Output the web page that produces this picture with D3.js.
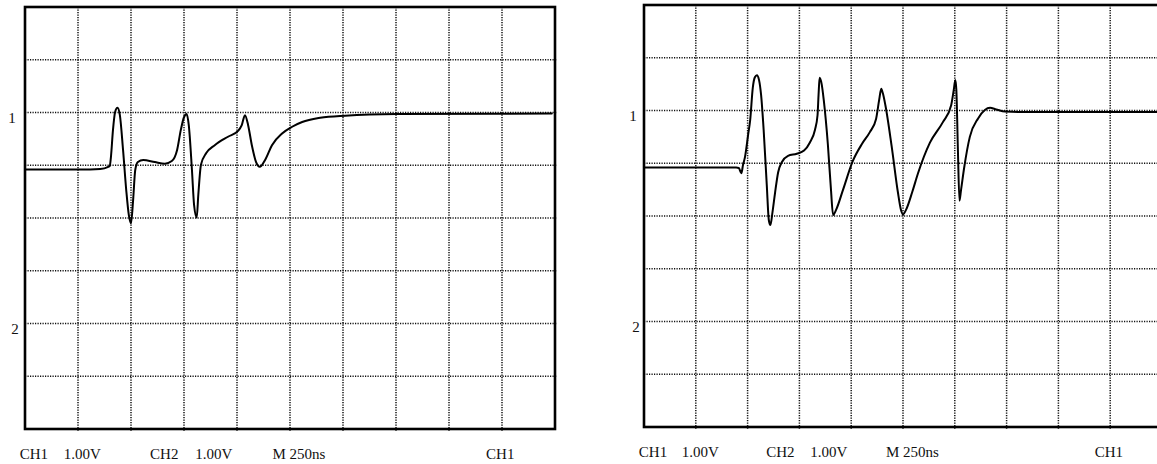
<!DOCTYPE html>
<html>
<head>
<meta charset="utf-8">
<script src="https://cdn.jsdelivr.net/npm/d3@7/dist/d3.min.js"></script>
<style>
  html, body { margin: 0; padding: 0; background: #fff; }
  svg { display: block; }
  text { font-family: "Liberation Serif", "Times New Roman", serif; fill: #111; }
</style>
</head>
<body>
<svg id="chart" width="1157" height="464"></svg>
<script>
// ---- Data (time in divisions, voltage in divisions from screen centre) ----
const leftTime = [0, 1.04, 1.42, 1.57, 1.60, 1.62, 1.66, 1.70, 1.745, 1.79, 1.85, 1.91, 1.96, 2.00, 2.04, 2.08, 2.13, 2.23, 2.45, 2.64, 2.77, 2.87, 2.94, 3.00, 3.05, 3.09, 3.15, 3.19, 3.24, 3.27, 3.32, 3.42, 3.58, 3.83, 4.02, 4.09, 4.15, 4.21, 4.28, 4.36, 4.43, 4.53, 4.66, 4.85, 5.04, 5.23, 5.57, 6.04, 7.02, 9.94];
const leftVolt = [0.92, 0.92, 0.93, 0.97, 0.99, 1.14, 1.67, 2.01, 2.09, 1.95, 1.29, 0.53, 0.05, -0.10, 0.34, 0.91, 1.06, 1.10, 1.06, 1.03, 1.08, 1.29, 1.67, 1.91, 1.97, 1.76, 0.91, 0.25, 0.01, 0.44, 1.01, 1.23, 1.38, 1.54, 1.65, 1.76, 1.95, 1.76, 1.38, 1.06, 0.97, 1.10, 1.38, 1.60, 1.73, 1.82, 1.90, 1.94, 1.97, 1.98];

const rightTime = [0, 1.08, 1.78, 1.83, 1.88, 1.91, 1.95, 2.01, 2.05, 2.10, 2.14, 2.18, 2.22, 2.26, 2.31, 2.37, 2.41, 2.44, 2.48, 2.53, 2.59, 2.66, 2.78, 2.95, 3.09, 3.20, 3.30, 3.35, 3.37, 3.39, 3.43, 3.47, 3.55, 3.61, 3.65, 3.71, 3.84, 4.03, 4.21, 4.36, 4.48, 4.54, 4.58, 4.61, 4.66, 4.78, 4.90, 4.96, 5.00, 5.06, 5.18, 5.29, 5.52, 5.77, 5.93, 5.98, 6.01, 6.03, 6.06, 6.09, 6.12, 6.18, 6.29, 6.45, 6.58, 6.68, 6.80, 6.97, 7.26, 9.95];
const rightVolt = [0.92, 0.92, 0.92, 0.91, 0.81, 0.96, 1.12, 1.54, 1.82, 2.43, 2.63, 2.67, 2.58, 2.30, 1.63, 0.59, -0.08, -0.17, 0.07, 0.44, 0.83, 1.02, 1.14, 1.18, 1.24, 1.39, 1.63, 1.91, 2.30, 2.62, 2.50, 2.20, 1.35, 0.49, 0.02, 0.12, 0.49, 1.04, 1.37, 1.59, 1.84, 2.20, 2.41, 2.33, 2.10, 1.33, 0.46, 0.12, 0.03, 0.12, 0.46, 0.81, 1.39, 1.78, 2.10, 2.39, 2.58, 2.39, 1.25, 0.29, 0.49, 0.91, 1.50, 1.85, 2.01, 2.05, 2.02, 1.98, 1.97, 1.97];

const channelMarkers = ["1", "2"];
const channelLevels = [2, -2];
const footerLabels = ["CH1", "1.00V", "CH2", "1.00V", "M 250ns", "CH1"];
const footerOffsets = [-0.1, 0.73, 2.36, 3.21, 4.67, 8.7];
const timeDivs = 10;
const voltDivs = 8;

// ---- Layout ----
const panels = [
  { x0: 25, x1: 555, y0: 7, y1: 429, time: leftTime, volt: leftVolt, markerX: 12, footerY: 459 },
  { x0: 644, x1: 1162, y0: 5, y1: 427, time: rightTime, volt: rightVolt, markerX: 633, footerY: 457 }
];

const svg = d3.select("#chart");

panels.forEach((p) => {
  const x = d3.scaleLinear().domain([0, timeDivs]).range([p.x0, p.x1]);
  const y = d3.scaleLinear().domain([-voltDivs / 2, voltDivs / 2]).range([p.y1, p.y0]);
  const g = svg.append("g");

  // dotted grid
  const vTicks = d3.range(1, timeDivs);
  const hTicks = d3.range(-voltDivs / 2 + 1, voltDivs / 2);
  g.selectAll(".vg").data(vTicks).join("line")
    .attr("x1", d => x(d)).attr("x2", d => x(d))
    .attr("y1", p.y0).attr("y2", p.y1 + 2)
    .attr("stroke", "#111").attr("stroke-width", 1.5).attr("stroke-dasharray", "1.2,1.3");
  g.selectAll(".hg").data(hTicks).join("line")
    .attr("x1", p.x0).attr("x2", p.x1 + 2)
    .attr("y1", d => y(d)).attr("y2", d => y(d))
    .attr("stroke", "#111").attr("stroke-width", 1.5).attr("stroke-dasharray", "1.2,1.3");

  // frame
  g.append("rect")
    .attr("x", p.x0).attr("y", p.y0)
    .attr("width", p.x1 - p.x0).attr("height", p.y1 - p.y0)
    .attr("fill", "none").attr("stroke", "#000").attr("stroke-width", 2.6);

  // trace
  const pts = p.time.map((t, k) => [t, p.volt[k]]);
  const line = d3.line().x(d => x(d[0])).y(d => y(d[1])).curve(d3.curveMonotoneX);
  g.append("path").attr("d", line(pts))
    .attr("fill", "none").attr("stroke", "#000").attr("stroke-width", 2)
    .attr("stroke-linejoin", "round").attr("stroke-linecap", "round");

  // channel markers
  g.selectAll(".cm").data(channelMarkers).join("text")
    .attr("x", (d, k) => p.markerX + (k === 1 ? 3 : 0))
    .attr("y", (d, k) => y(channelLevels[k]) + 10.5)
    .attr("text-anchor", "middle").attr("font-size", 15)
    .text(d => d);

  // footer
  g.selectAll(".ft").data(footerLabels).join("text")
    .attr("x", (d, k) => x(footerOffsets[k]))
    .attr("y", p.footerY)
    .attr("font-size", 15)
    .text(d => d);
});
</script>
</body>
</html>
